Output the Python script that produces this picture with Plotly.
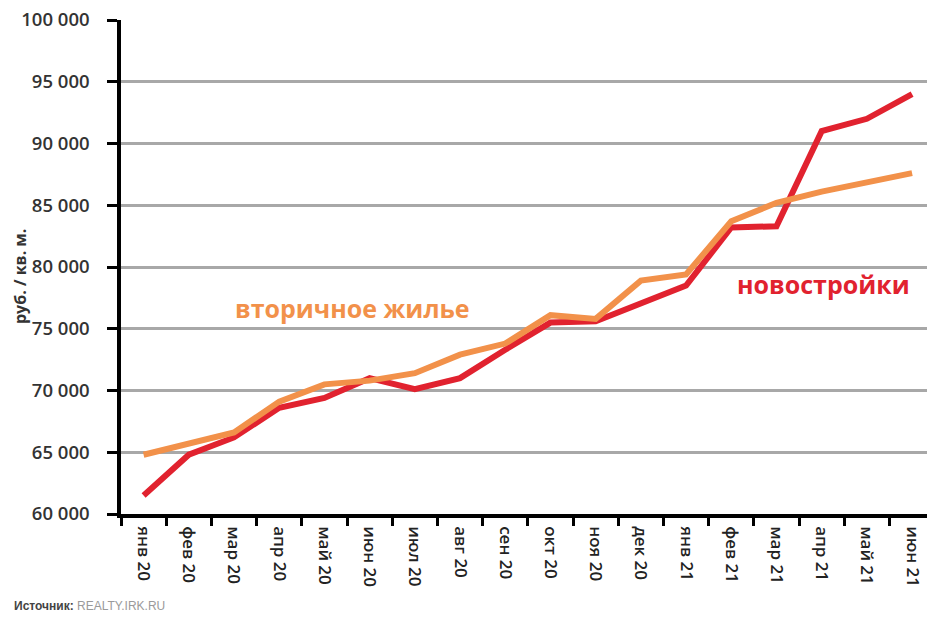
import plotly.graph_objects as go

months = ["янв 20", "фев 20", "мар 20", "апр 20", "май 20", "июн 20", "июл 20",
          "авг 20", "сен 20", "окт 20", "ноя 20", "дек 20", "янв 21", "фев 21",
          "мар 21", "апр 21", "май 21", "июн 21"]
new_build = [61500, 64800, 66200, 68600, 69400, 71000, 70100, 71000, 73300,
             75500, 75600, 77000, 78500, 83200, 83300, 91000, 92000, 94000]
secondary = [64800, 65700, 66600, 69100, 70500, 70800, 71400, 72900, 73800,
             76100, 75800, 78900, 79400, 83700, 85200, 86100, 86900, 87600]
y_ticks = [60000, 65000, 70000, 75000, 80000, 85000, 90000, 95000, 100000]

RED = "#E1222F"
ORANGE = "#F2914A"
FONT = "Open Sans"

L, T, B = 121, 20, 103
PW, PH = 927 - L, 617 - T - B

fig = go.Figure()
fig.add_trace(go.Scatter(x=months, y=new_build, mode="lines",
                         line=dict(color=RED, width=6), name="новостройки"))
fig.add_trace(go.Scatter(x=months, y=secondary, mode="lines",
                         line=dict(color=ORANGE, width=6), name="вторичное жилье"))

fig.update_layout(
    width=927, height=617,
    margin=dict(l=L, r=0, t=T, b=B),
    paper_bgcolor="white", plot_bgcolor="white",
    showlegend=False,
    separators=". ",
    font=dict(family=FONT, color="#222222"),
)
fig.update_xaxes(
    type="category", range=[-0.5, 17.33],
    showgrid=False, showline=True, linecolor="black", linewidth=3.5,
    ticks="outside", tickson="boundaries", ticklen=8, tickwidth=3, tickcolor="black",
    tickangle=90, ticklabelstandoff=5,
    tickfont=dict(size=17, family=FONT, color="#222222", weight=600),
)
fig.update_yaxes(
    range=[60000, 100000], tickvals=y_ticks, tickformat=",d",
    showgrid=True, gridcolor="#A8A8A8", gridwidth=2.5,
    showline=True, linecolor="black", linewidth=3.5, zeroline=False,
    ticks="outside", ticklen=10, tickwidth=3, tickcolor="black",
    ticklabelstandoff=14,
    tickfont=dict(size=18.5, family=FONT, color="#333333", weight=600),
)

fig.add_annotation(x=4.61, y=76700, xref="x", yref="y", text="вторичное жилье",
                   showarrow=False, font=dict(size=25, color=ORANGE, family=FONT, weight="bold"))
fig.add_annotation(x=15.05, y=78650, xref="x", yref="y", text="новостройки",
                   showarrow=False, font=dict(size=25, color=RED, family=FONT, weight="bold"))
fig.add_annotation(xref="paper", yref="paper", x=(20 - L) / PW, y=(T + PH - 277) / PH,
                   xanchor="center", yanchor="middle",
                   text="руб. / кв. м.", showarrow=False, textangle=-90,
                   font=dict(size=16, color="#333333", family=FONT, weight="bold"))
fig.add_annotation(xref="paper", yref="paper", x=(12 - L) / PW, y=(T + PH - 606) / PH,
                   xanchor="left", yanchor="middle",
                   text="<b>Источник:</b> <span style='color:#9a9a9a'>REALTY.IRK.RU</span>",
                   showarrow=False,
                   font=dict(size=12, color="#444444", family="Liberation Sans"))

fig.write_html("out.html", config={"displayModeBar": False},
               post_script="document.body.style.margin='0';document.body.style.overflow='hidden';")
